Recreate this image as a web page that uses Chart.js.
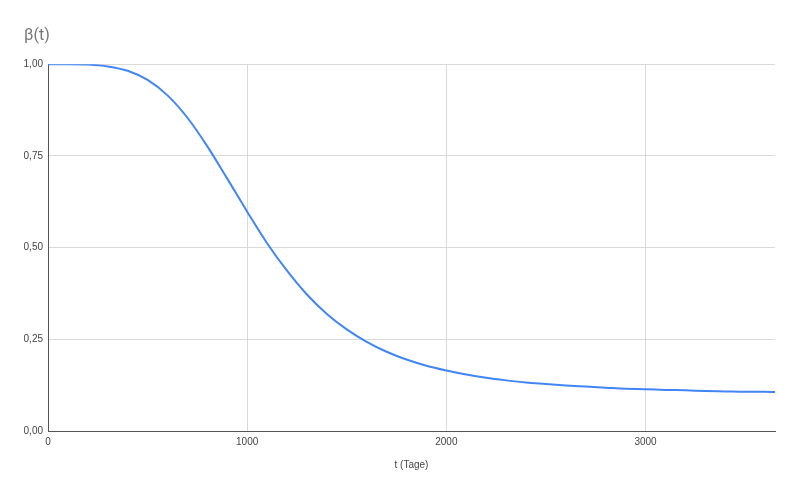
<!DOCTYPE html>
<html>
<head>
<meta charset="utf-8">
<script src="https://cdn.jsdelivr.net/npm/chart.js@4/dist/chart.umd.min.js"></script>
<style>
  html, body { margin: 0; padding: 0; background: #fff; }
  #wrap { width: 800px; height: 495px; }
</style>
</head>
<body>
<div id="wrap"><canvas id="betaChart"></canvas></div>
<script>
// t in Tagen, beta
const days = [0, 100, 200, 300, 400, 500, 600, 700, 800, 900, 1000, 1100, 1200, 1300, 1400, 1500,
  1600, 1700, 1800, 1900, 2000, 2100, 2200, 2300, 2400, 2500, 2600, 2700, 2800, 2900, 3000,
  3100, 3200, 3300, 3400, 3500, 3600, 3650];
const beta = [1.000, 1.000, 0.999, 0.994, 0.982, 0.957, 0.915, 0.854, 0.776, 0.688, 0.598, 0.512,
  0.437, 0.372, 0.319, 0.277, 0.243, 0.216, 0.195, 0.178, 0.165, 0.154, 0.145, 0.138, 0.132,
  0.128, 0.124, 0.121, 0.118, 0.115, 0.114, 0.112, 0.111, 0.109, 0.108, 0.107, 0.107, 0.106];
const xTicks = [0, 1000, 2000, 3000];
const yTicks = [0, 0.25, 0.5, 0.75, 1];

const points = days.map((t, i) => ({ x: t, y: beta[i] }));
const tickFont = { family: "Liberation Sans", size: 10 };

new Chart(document.getElementById("betaChart"), {
  type: "line",
  data: {
    datasets: [{
      data: points,
      borderColor: "#4285f4",
      borderWidth: 2,
      pointRadius: 0,
      fill: false,
      cubicInterpolationMode: "monotone"
    }]
  },
  options: {
    responsive: true,
    maintainAspectRatio: false,
    animation: false,
    layout: { padding: { left: 24, right: 25, top: 26, bottom: 24 } },
    plugins: {
      legend: { display: false },
      tooltip: { enabled: false },
      title: {
        display: true,
        text: "β(t)",
        align: "start",
        color: "#757575",
        font: { family: "Roboto", size: 16, weight: "normal" },
        padding: { top: 0, bottom: 19 }
      }
    },
    scales: {
      x: {
        type: "linear",
        min: 0,
        max: 3650,
        afterBuildTicks: scale => { scale.ticks = xTicks.map(v => ({ value: v })); },
        grid: { color: "#d9d9d9", drawTicks: false },
        border: { color: "#555", width: 1 },
        ticks: {
          color: "#444",
          padding: 5,
          maxRotation: 0,
          font: tickFont,
          callback: v => String(v)
        },
        title: {
          display: true,
          text: "t (Tage)",
          color: "#444",
          font: tickFont,
          padding: { top: 6, bottom: 0 }
        }
      },
      y: {
        min: 0,
        max: 1,
        afterBuildTicks: scale => { scale.ticks = yTicks.map(v => ({ value: v })); },
        afterFit: scale => { scale.width = 24; },
        grid: { color: "#d9d9d9", drawTicks: false },
        border: { color: "#555", width: 1 },
        ticks: {
          color: "#444",
          padding: 5,
          font: tickFont,
          callback: v => v.toFixed(2).replace(".", ",")
        }
      }
    }
  }
});
</script>
</body>
</html>
